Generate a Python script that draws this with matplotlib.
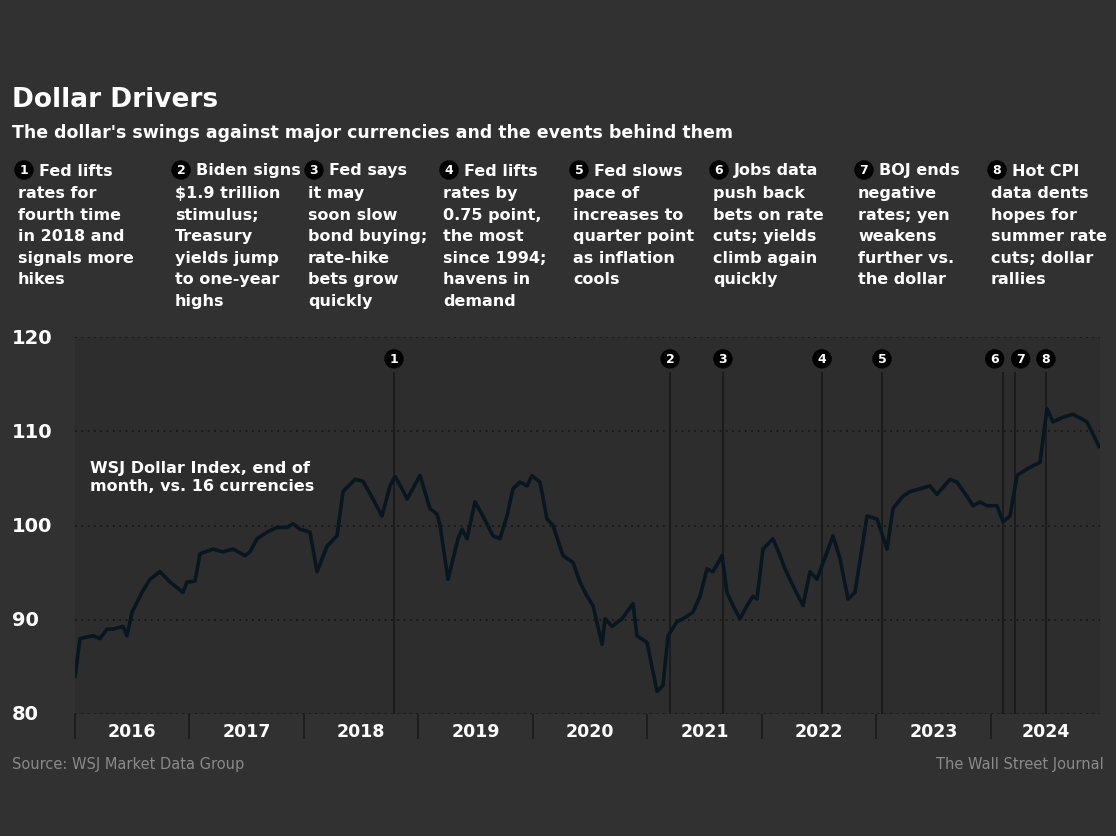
import matplotlib.pyplot as plt
from matplotlib.transforms import blended_transform_factory

# Dollar index readings (decimal year, index value)
years = [2016.000, 2016.044, 2016.157, 2016.218, 2016.279, 2016.332, 2016.419, 2016.454, 2016.498, 2016.585,
         2016.655, 2016.742, 2016.830, 2016.943, 2016.978, 2017.048, 2017.092, 2017.205, 2017.293, 2017.380,
         2017.485, 2017.528, 2017.590, 2017.677, 2017.764, 2017.852, 2017.904, 2017.965, 2018.052, 2018.114,
         2018.201, 2018.288, 2018.341, 2018.445, 2018.515, 2018.603, 2018.681, 2018.751, 2018.795, 2018.856,
         2018.900, 2019.013, 2019.100, 2019.162, 2019.188, 2019.258, 2019.345, 2019.380, 2019.424, 2019.493,
         2019.563, 2019.651, 2019.712, 2019.773, 2019.825, 2019.886, 2019.948, 2019.991, 2020.061, 2020.122,
         2020.175, 2020.262, 2020.349, 2020.410, 2020.472, 2020.524, 2020.603, 2020.629, 2020.690, 2020.777,
         2020.873, 2020.908, 2020.996, 2021.083, 2021.135, 2021.179, 2021.258, 2021.310, 2021.397, 2021.459,
         2021.520, 2021.572, 2021.651, 2021.694, 2021.747, 2021.808, 2021.869, 2021.921, 2021.956, 2022.009,
         2022.096, 2022.157, 2022.201, 2022.271, 2022.358, 2022.419, 2022.480, 2022.568, 2022.620, 2022.681,
         2022.751, 2022.812, 2022.917, 2023.004, 2023.092, 2023.144, 2023.231, 2023.293, 2023.380, 2023.467,
         2023.528, 2023.642, 2023.703, 2023.790, 2023.843, 2023.904, 2023.965, 2024.052, 2024.105, 2024.166,
         2024.227, 2024.314, 2024.428, 2024.489, 2024.541, 2024.629, 2024.716, 2024.838, 2024.943]
index_values = [84.0, 88.0, 88.3, 88.0, 89.0, 89.0, 89.3, 88.3, 90.8, 92.9,
                94.3, 95.1, 94.0, 92.9, 94.0, 94.1, 97.0, 97.5, 97.2, 97.5,
                96.8, 97.2, 98.6, 99.3, 99.8, 99.8, 100.2, 99.6, 99.3, 95.1,
                97.8, 98.9, 103.6, 104.9, 104.7, 102.8, 101.0, 104.2, 105.2, 103.9,
                102.8, 105.3, 101.8, 101.2, 100.0, 94.3, 98.6, 99.6, 98.6, 102.5,
                101.0, 98.9, 98.6, 101.0, 103.9, 104.6, 104.2, 105.3, 104.6, 100.7,
                100.0, 96.8, 96.1, 94.0, 92.5, 91.5, 87.4, 90.1, 89.3, 90.1,
                91.7, 88.3, 87.6, 82.4, 83.0, 88.3, 89.8, 90.1, 90.8, 92.5,
                95.4, 95.1, 96.8, 92.9, 91.5, 90.1, 91.5, 92.5, 92.2, 97.5,
                98.6, 96.8, 95.4, 93.6, 91.5, 95.1, 94.3, 97.2, 98.9, 96.5,
                92.2, 92.9, 101.0, 100.7, 97.5, 101.8, 103.1, 103.6, 103.9, 104.2,
                103.3, 104.9, 104.6, 103.1, 102.1, 102.5, 102.1, 102.1, 100.4, 101.0,
                105.3, 106.0, 106.7, 112.4, 111.0, 111.5, 111.8, 111.0, 108.4]

year_labels = ['2016', '2017', '2018', '2019', '2020', '2021', '2022', '2023', '2024']
y_ticks = [80, 90, 100, 110, 120]

event_years = [2018.786, 2021.197, 2021.659, 2022.524, 2023.048, 2024.105, 2024.210, 2024.480]
event_nums = ['1', '2', '3', '4', '5', '6', '7', '8']
event_notes = [
    "Fed lifts\nrates for\nfourth time\nin 2018 and\nsignals more\nhikes",
    "Biden signs\n$1.9 trillion\nstimulus;\nTreasury\nyields jump\nto one-year\nhighs",
    "Fed says\nit may\nsoon slow\nbond buying;\nrate-hike\nbets grow\nquickly",
    "Fed lifts\nrates by\n0.75 point,\nthe most\nsince 1994;\nhavens in\ndemand",
    "Fed slows\npace of\nincreases to\nquarter point\nas inflation\ncools",
    "Jobs data\npush back\nbets on rate\ncuts; yields\nclimb again\nquickly",
    "BOJ ends\nnegative\nrates; yen\nweakens\nfurther vs.\nthe dollar",
    "Hot CPI\ndata dents\nhopes for\nsummer rate\ncuts; dollar\nrallies",
]

BG = '#313131'
PLOT_BG = '#2d2d2d'
LINE = '#08161f'
W, H = 1116, 837

fig = plt.figure(figsize=(11.16, 8.37), dpi=100)
fig.patch.set_facecolor(BG)
ax = fig.add_axes([75 / W, 1 - 715 / H, 1025 / W, 377 / H])
ax.set_facecolor(PLOT_BG)

x_max = 2024.952
ax.set_xlim(2016.0, x_max)
ax.set_ylim(80, 120)

# gridlines
for v in y_ticks:
    ax.axhline(v, color='#161616', lw=1.3, ls=(0, (1, 2.5)), zorder=1)

# event lines + numbered markers
bt = blended_transform_factory(ax.transData, ax.transAxes)
label_shift = [0, 0, 0, 0, 0, -6, 4, 0]
for yr, num, dx in zip(event_years, event_nums, label_shift):
    ax.plot([yr, yr], [0, 0.905], transform=bt, color='#1b1b1b', lw=1.4, zorder=2)
    ax.annotate(num, (yr, 0.942), xycoords=bt, xytext=(dx, 0), textcoords='offset points',
                ha='center', va='center', color='white', fontsize=9, fontweight='bold',
                bbox=dict(boxstyle='circle,pad=0.2', fc='black', ec='black'), zorder=5)

ax.plot(years, index_values, color=LINE, lw=2.6, solid_joinstyle='round', zorder=4)

# x axis: year boundaries as ticks, labels centred in each year
ax.set_xticks(list(range(2016, 2025)))
ax.set_xticklabels([])
ax.tick_params(axis='x', which='major', length=18, width=1.3, color='#1b1b1b', direction='out')
mid = [min(int(y) + 0.5, (int(y) + x_max) / 2) for y in year_labels]
ax.set_xticks(mid, minor=True)
ax.set_xticklabels(year_labels, minor=True)
ax.tick_params(axis='x', which='minor', length=0, pad=6, labelsize=12.5, labelcolor='white')
for lab in ax.get_xticklabels(minor=True):
    lab.set_fontweight('bold')

ax.set_yticks([])
for s in ax.spines.values():
    s.set_visible(False)

# y labels sit at the left margin
yt = blended_transform_factory(fig.transFigure, ax.transData)
for v in y_ticks:
    ax.text(12 / W, v, str(v), transform=yt, ha='left', va='center', color='white',
            fontsize=14, fontweight='bold')

ax.text(0.015, 0.675, "WSJ Dollar Index, end of\nmonth, vs. 16 currencies", transform=ax.transAxes,
        ha='left', va='top', color='white', fontsize=11.5, fontweight='bold', linespacing=1.3)

# title and subtitle
fig.text(12 / W, 1 - 100 / H, "Dollar Drivers", ha='left', va='center', color='white',
         fontsize=19, fontweight='bold')
fig.text(12 / W, 1 - 133 / H,
         "The dollar's swings against major currencies and the events behind them",
         ha='left', va='center', color='white', fontsize=12.5, fontweight='bold')

# numbered notes across the top
col_x = [15, 172, 305, 440, 570, 710, 855, 988]
for cx, num, note in zip(col_x, event_nums, event_notes):
    fig.text((cx + 9) / W, 1 - 171 / H, num, ha='center', va='center', color='white',
             fontsize=9, fontweight='bold',
             bbox=dict(boxstyle='circle,pad=0.2', fc='black', ec='black'))
    first, rest = note.split('\n', 1)
    fig.text((cx + 24) / W, 1 - 171 / H, first, ha='left', va='center', color='white',
             fontsize=11.5, fontweight='bold')
    fig.text((cx + 3) / W, 1 - 186 / H, rest, ha='left', va='top', color='white',
             fontsize=11.5, fontweight='bold', linespacing=1.55)

fig.text(12 / W, 1 - 765 / H, "Source: WSJ Market Data Group", ha='left', va='center',
         color='#8a8a8a', fontsize=10.5)
fig.text(1104 / W, 1 - 765 / H, "The Wall Street Journal", ha='right', va='center',
         color='#8a8a8a', fontsize=10.5)

fig.savefig('out.png', dpi=100, facecolor=BG)
